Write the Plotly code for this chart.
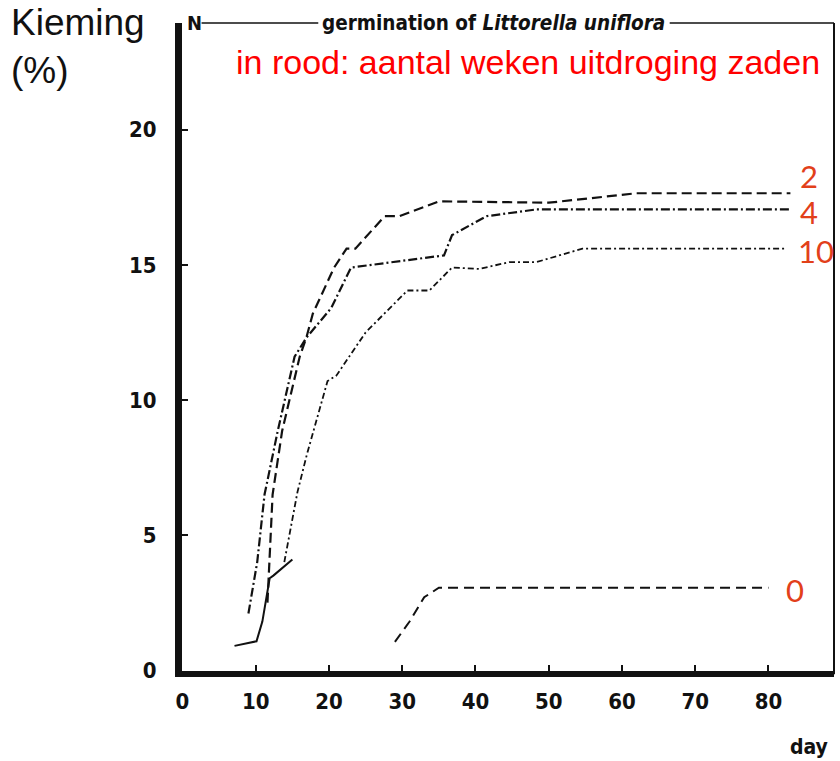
import plotly.graph_objects as go

# ---- data ----
days_solid = [7.1, 10.1, 10.9, 11.9, 12.4, 15.0]
pct_solid = [0.9, 1.07, 1.8, 3.4, 3.5, 4.1]

days_0 = [29.0, 31.0, 33.0, 35.0, 80.0]
pct_0 = [1.05, 1.8, 2.7, 3.05, 3.05]

days_2 = [11.6, 12.3, 13.6, 16.0, 16.9, 17.8, 20.7, 22.4, 23.6, 27.6, 29.6, 35.0, 50.0, 62.0, 83.0]
pct_2 = [2.5, 6.5, 8.85, 11.6, 12.3, 13.2, 14.9, 15.6, 15.6, 16.8, 16.8, 17.35, 17.3, 17.65, 17.65]

days_4 = [9.0, 10.2, 11.2, 13.0, 15.3, 16.9, 20.3, 23.0, 35.7, 36.8, 41.5, 48.3, 83.0]
pct_4 = [2.1, 4.0, 6.5, 8.85, 11.6, 12.3, 13.4, 14.9, 15.35, 16.1, 16.8, 17.05, 17.05]

days_10 = [13.9, 15.7, 17.0, 19.8, 21.0, 25.0, 30.7, 33.7, 36.8, 40.5, 44.6, 48.3, 54.6, 82.4]
pct_10 = [4.0, 6.6, 8.0, 10.7, 10.9, 12.5, 14.05, 14.05, 14.9, 14.85, 15.1, 15.1, 15.6, 15.6]

x_ticks = [0, 10, 20, 30, 40, 50, 60, 70, 80]
y_ticks = [0, 5, 10, 15, 20]

series_labels = ["2", "4", "10", "0"]
label_days = [84.0, 84.0, 83.8, 82.1]
label_pct = [18.3, 16.95, 15.5, 2.95]

title_text = "<b>germination of <i>Littorella uniflora</i></b>"
red_note = "in rood: aantal weken uitdroging zaden"

BLACK = "#111111"
RED_LABEL = "#E2401A"
COND = "DejaVu Sans Condensed, DejaVu Sans, sans-serif"

fig = go.Figure()
fig.add_trace(go.Scatter(x=days_solid, y=pct_solid, mode="lines",
                         line=dict(color=BLACK, width=2), showlegend=False))
fig.add_trace(go.Scatter(x=days_0, y=pct_0, mode="lines",
                         line=dict(color=BLACK, width=2, dash="10px,6px"), showlegend=False))
fig.add_trace(go.Scatter(x=days_2, y=pct_2, mode="lines",
                         line=dict(color=BLACK, width=2.2, dash="10px,5px"), showlegend=False))
fig.add_trace(go.Scatter(x=days_4, y=pct_4, mode="lines",
                         line=dict(color=BLACK, width=2.2, dash="9px,3px,2px,3px"), showlegend=False))
fig.add_trace(go.Scatter(x=days_10, y=pct_10, mode="lines",
                         line=dict(color=BLACK, width=1.8, dash="6px,3px,2px,3px"), showlegend=False))

for t, xd, yp in zip(series_labels, label_days, label_pct):
    fig.add_annotation(x=xd, y=yp, text=t, showarrow=False, xanchor="left", yanchor="middle",
                       font=dict(family="Lato, Open Sans, sans-serif", size=31, color=RED_LABEL))

tick_font = dict(family=COND, size=22, color=BLACK, weight="bold")

fig.update_xaxes(range=[-0.07, 88.95], tickvals=x_ticks, ticks="inside", ticklen=6, tickwidth=2,
                 tickcolor=BLACK, showline=True, linewidth=6, linecolor=BLACK, showgrid=False,
                 zeroline=False, tickfont=tick_font, ticklabelstandoff=6)
fig.update_yaxes(range=[-0.03, 23.95], tickvals=y_ticks, ticks="inside", ticklen=6, tickwidth=2,
                 tickcolor=BLACK, showline=True, linewidth=7, linecolor=BLACK, showgrid=False,
                 zeroline=False, tickfont=tick_font, ticklabelstandoff=14)

# frame pieces (top line interrupted by the title, thin right border)
shapes = [
    dict(type="line", xref="paper", yref="paper", x0=0.030, x1=0.209, y0=1, y1=1,
         line=dict(color=BLACK, width=1.5)),
    dict(type="line", xref="paper", yref="paper", x0=0.748, x1=1, y0=1, y1=1,
         line=dict(color=BLACK, width=1.5)),
    dict(type="line", xref="paper", yref="paper", x0=1, x1=1, y0=-0.005, y1=1,
         line=dict(color=BLACK, width=2)),
]
fig.update_layout(shapes=shapes)

fig.add_annotation(xref="paper", yref="paper", x=0.004, y=1, text="<b>N</b>", showarrow=False,
                   xanchor="left", yanchor="middle", font=dict(family=COND, size=20, color=BLACK))
fig.add_annotation(xref="paper", yref="paper", x=0.211, y=1.0, text=title_text, showarrow=False,
                   xanchor="left", yanchor="middle", font=dict(family=COND, size=20.5, color=BLACK))
fig.add_annotation(xref="paper", yref="paper", x=0.982, y=0.940, text=red_note, showarrow=False,
                   xanchor="right", yanchor="middle",
                   font=dict(family="Liberation Sans, Arial, sans-serif", size=34, color="#FF0000"))
fig.add_annotation(xref="paper", yref="paper", x=-0.266, y=1.035, text="Kieming<br>(%)",
                   showarrow=False, xanchor="left", yanchor="top", align="left",
                   font=dict(family="Liberation Sans, Arial, sans-serif", size=37, color=BLACK))
fig.add_annotation(xref="paper", yref="paper", x=0.994, y=-0.117, text="<b>day</b>", showarrow=False,
                   xanchor="right", yanchor="middle", font=dict(family=COND, size=21, color=BLACK))

fig.update_layout(width=840, height=761, margin=dict(l=181.5, r=6, t=23, b=90),
                  paper_bgcolor="white", plot_bgcolor="white")

post_js = """
document.body.style.margin = '0';
document.body.style.overflow = 'hidden';
var st = document.createElement('style');
st.textContent = '.xtick text, .ytick text { font-stretch: condensed; }';
document.head.appendChild(st);
"""

fig.write_html("out.html", post_script=post_js, config={"displayModeBar": False})
